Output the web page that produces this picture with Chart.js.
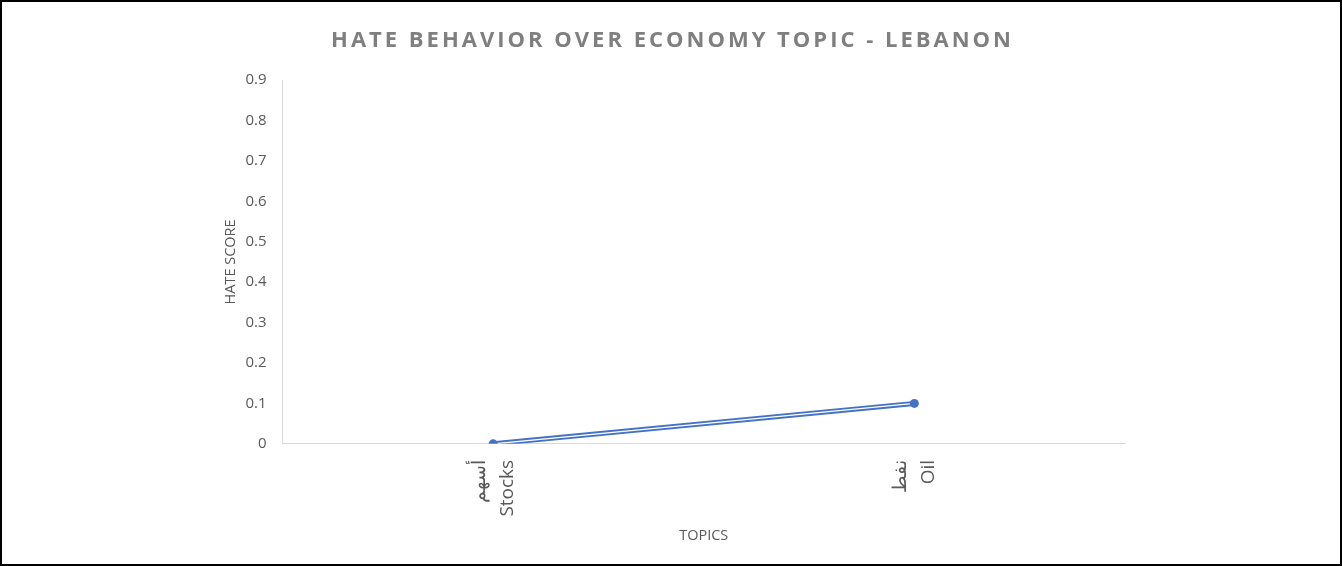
<!DOCTYPE html>
<html lang="en">
<head>
  <meta charset="UTF-8">
  <title>Hate Behavior over Economy Topic - Lebanon</title>
  <script src="https://cdn.jsdelivr.net/npm/chart.js"></script>
  <style>
    body { margin: 0; background: #fff; }
    #box { position: absolute; left: 0; top: 0; width: 1342px; height: 566px; box-sizing: border-box; border: 2px solid #000; }
  </style>
</head>
<body>
  <div id="box"><canvas id="grafico" width="1338" height="562"></canvas></div>

  <script>
    const titolo = 'HATE BEHAVIOR OVER ECONOMY TOPIC - LEBANON';
    const categorie = [['أسهم', 'Stocks'], ['نفط', 'Oil']];
    const valori = [0, 0.1];
    const yTicks = [0, 0.1, 0.2, 0.3, 0.4, 0.5, 0.6, 0.7, 0.8, 0.9];

    const blu = '#4472C4';
    const grigio = '#595959';

    // titolo disegnato a mano per avere la spaziatura tra lettere
    const titoloPlugin = {
      id: 'titoloSpaziato',
      afterDraw(chart) {
        const c = chart.ctx;
        c.save();
        c.font = 'bold 22px "Open Sans"';
        c.fillStyle = '#7f7f7f';
        c.textAlign = 'center';
        c.textBaseline = 'middle';
        c.letterSpacing = '3px';
        c.fillText(titolo, 669 + 1.5, 39);
        c.restore();
      }
    };

    const ctx = document.getElementById('grafico').getContext('2d');
    const chart = new Chart(ctx, {
      type: 'line',
      data: {
        labels: categorie,
        datasets: [
          {
            // punti
            data: valori,
            showLine: false,
            pointRadius: 4.5,
            pointBackgroundColor: blu,
            pointBorderColor: blu,
            pointBorderWidth: 0
          },
          {
            // linea interna bianca (linea doppia)
            data: valori,
            borderColor: '#ffffff',
            borderWidth: 1.4,
            pointRadius: 0
          },
          {
            data: valori,
            borderColor: blu,
            borderWidth: 5,
            pointRadius: 0
          }
        ]
      },
      options: {
        animation: false,
        responsive: false,
        layout: { padding: { top: 78, right: 215, left: 220, bottom: 19 } },
        plugins: {
          legend: { display: false },
          tooltip: { enabled: false },
          title: { display: false }
        },
        scales: {
          x: {
            offset: true,
            grid: { display: false },
            border: { color: '#d9d9d9', width: 1 },
            ticks: {
              color: grigio,
              font: { family: '"Open Sans"', size: 19, lineHeight: 1.5 },
              minRotation: 90,
              maxRotation: 90,
              labelOffset: -14,
              padding: 8
            },
            title: {
              display: true,
              text: 'TOPICS',
              color: grigio,
              font: { family: '"Open Sans"', size: 14.5 },
              padding: { top: 3, bottom: 0 }
            }
          },
          y: {
            min: 0,
            max: 0.9,
            afterBuildTicks(scale) {
              scale.ticks = yTicks.map(v => ({ value: v }));
            },
            grid: { display: false },
            border: { color: '#d9d9d9', width: 1 },
            ticks: {
              color: grigio,
              font: { family: '"Open Sans"', size: 15 },
              padding: 8
            },
            title: {
              display: true,
              text: 'HATE SCORE',
              color: grigio,
              font: { family: '"Open Sans"', size: 14.5 },
              padding: { top: 0, bottom: -2 }
            }
          }
        }
      },
      plugins: [titoloPlugin]
    });
  </script>
</body>
</html>
